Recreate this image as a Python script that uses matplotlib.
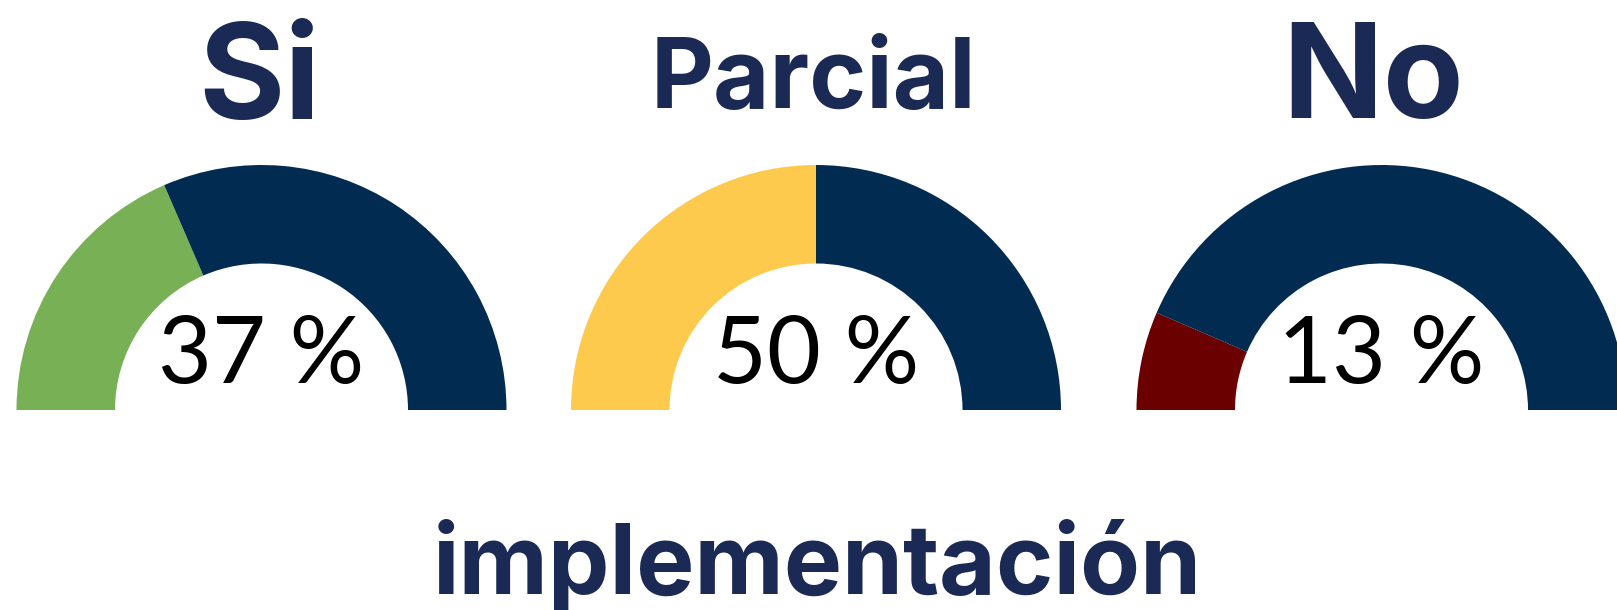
import matplotlib
matplotlib.use("Agg")
import matplotlib.pyplot as plt
from matplotlib.patches import Wedge

# Data
categories = ["Si", "Parcial", "No"]
percentages = [37, 50, 13]
fill_colors = ["#78B155", "#FDCA4E", "#6B0000"]
rest_color = "#022B52"
title_color = "#1B2A55"
footer_label = "implementación"

W, H = 1617, 610
fig = plt.figure(figsize=(W / 100, H / 100), dpi=100)
ax = fig.add_axes([0, 0, 1, 1])
ax.set_xlim(0, W)
ax.set_ylim(0, H)
ax.set_aspect("equal")
ax.axis("off")

centers_x = [261.5, 816, 1381.5]
center_y = 200
r_out = 245
ring_w = 98.5
title_y = [491, 502, 492]
title_x = [259, 813, 1373]
title_size = [95, 70, 95]

for cx, cat, pct, col, tx, ty, ts in zip(centers_x, categories, percentages,
                                         fill_colors, title_x, title_y, title_size):
    split = 180 - pct / 100 * 180
    ax.add_patch(Wedge((cx, center_y), r_out, split, 180, width=ring_w,
                       facecolor=col, edgecolor="none"))
    ax.add_patch(Wedge((cx, center_y), r_out, 0, split, width=ring_w,
                       facecolor=rest_color, edgecolor="none"))
    ax.text(cx, 227, f"{pct} %", ha="center", va="baseline",
            fontsize=67, family="Lato", fontweight="normal", color="black")
    ax.text(tx, ty, cat, ha="center", va="baseline", fontsize=ts,
            family="Inter", fontweight="bold", color=title_color)

ax.text(817, 16, footer_label, ha="center", va="baseline", fontsize=70.5,
        family="Inter", fontweight="bold", color=title_color)

fig.savefig("out.png", dpi=100, facecolor="white")
